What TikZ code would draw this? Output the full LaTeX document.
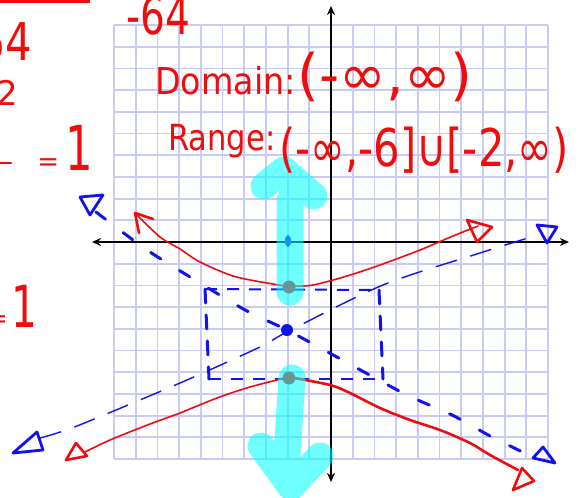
\documentclass[tikz,border=0pt]{standalone}
\usepackage{fontspec}
\setmainfont{DejaVu Sans}
\usetikzlibrary{arrows.meta}
\definecolor{gridc}{RGB}{202,202,246}
\definecolor{penred}{RGB}{240,12,12}
\definecolor{penblue}{RGB}{18,18,235}
\definecolor{hilite}{RGB}{0,255,255}
\begin{document}
\begin{tikzpicture}[x=1pt,y=-1pt,
  gridline/.style={gridc, line width=1.8pt},
  axis/.style={black, line width=2.4pt, {Stealth[length=9pt,width=8pt]}-{Stealth[length=9pt,width=8pt]}},
  redcurve/.style={penred, line width=1.6pt, line cap=round, line join=round},
  redthick/.style={penred, line width=2.6pt, line cap=round, line join=round},
  redhead/.style={penred, line width=2.6pt, line join=round, line cap=round},
  asymA/.style={penblue, line width=1.4pt, dash pattern=on 22pt off 14pt},
  asymB/.style={penblue, line width=3pt, line cap=round, dash pattern=on 12pt off 22pt},
  boxh/.style={penblue, line width=2pt, dash pattern=on 12pt off 10pt},
  boxv/.style={penblue, line width=3pt, line cap=round, dash pattern=on 14pt off 12pt},
  bluehead/.style={penblue, line width=2.8pt, line join=round, line cap=round},
  hl/.style={hilite, draw opacity=0.57, line width=27pt, line cap=round, line join=round},
  ink/.style={penred, inner sep=0pt}]
\clip (0,0) rectangle (582,498);
\fill[white] (0,0) rectangle (582,498);
% grid
\foreach \i in {0,...,20}{
  \draw[gridline] ({114+21.7*\i},25) -- ({114+21.7*\i},459);
  \draw[gridline] (114,{25+21.7*\i}) -- (548,{25+21.7*\i});
}
% axes
\coordinate (xl) at (92,242);
\coordinate (xr) at (569,242);
\coordinate (yt) at (331,6);
\coordinate (yb) at (331,482);
\draw[axis] (xl) -- (xr);
\draw[axis] (yt) -- (yb);
% key points
\coordinate (ctr) at (287,330);
\coordinate (vtop) at (289,287);
\coordinate (vbot) at (289,378);
\coordinate (bA) at (205,289);
\coordinate (bB) at (379,290);
\coordinate (bC) at (383,379);
\coordinate (bD) at (209,379);
% box
\draw[boxh] (bA) -- (bB);
\draw[boxh] (bD) -- (bC);
\draw[boxv] (bA) -- (bD);
\draw[boxv] (bB) -- (bC);
% asymptote A (thin, rising)
\draw[asymA] plot[smooth] coordinates {(40,438) (77,426) (180,383) (260,347) (287,332) (383,285) (480,253) (528,238)};
\draw[bluehead] (37,432) -- (13,453) -- (43,450) -- cycle;
\draw[bluehead] (537,225) -- (557,227) -- (547,243) -- cycle;
% asymptote B (thick, falling)
\draw[asymB] plot[smooth] coordinates {(96,212) (147,250) (200,283) (247,311) (287,330) (335,356) (405,394) (452,415) (492,437) (535,458)};
\draw[bluehead] (80,197) -- (103,195) -- (90,215) -- cycle;
\draw[bluehead] (533,458) -- (543,447) -- (555,463) -- cycle;
% hyperbola upper branch
\draw[redcurve] plot[smooth] coordinates {(135,213) (160,237) (180,249) (200,262) (233,276) (267,283) (289,286) (313,285) (347,276) (380,265) (420,250) (453,236) (478,226)};
\draw[redhead] (153,219) -- (135,213) -- (139,233);
\draw[redhead] (467,220) -- (492,227) -- (477,242) -- cycle;
% hyperbola lower branch
\draw[redcurve] plot[smooth] coordinates {(85,452) (110,440) (150,424) (180,413) (217,398) (250,387) (289,377)};
\draw[redthick] plot[smooth] coordinates {(289,377) (330,385) (350,393) (380,408) (410,420) (440,430) (470,443) (490,455) (518,470)};
\draw[redhead] (66,460) -- (76,443) -- (87,456) -- cycle;
\draw[redhead] (513,490) -- (522,468) -- (534,481) -- cycle;
% dots
\fill[penred] (vtop) circle[radius=6.5pt];
\fill[penred] (vbot) circle[radius=6.5pt];
\fill[penblue] (ctr) circle[radius=6pt];
\fill[penblue] (288,241) ellipse[x radius=3pt, y radius=6pt];
% highlighter arrows
\draw[hl] (290,292) -- (290,200) (264,186) -- (284,170) -- (314,196);
\draw[hl] (292,378) -- (286,470) (261,446) -- (291,487) -- (320,456);
% handwriting
\draw[penred, line width=3pt] (0,1) -- (90,1);
\draw[penred, line width=2.4pt, line cap=round] (0,163) -- (11,163);
\node[ink, anchor=base west] (dom) at (155,94) {\scalebox{0.9}[1]{\fontsize{37}{37}\selectfont Domain:}\hspace{2pt}{\fontsize{56}{56}\selectfont (-∞,∞)}};
\node[ink, anchor=base west] (rng) at (168,150) {\scalebox{0.85}[1]{\fontsize{36}{36}\selectfont Range:}\hspace{4pt}\raisebox{-16pt}{\scalebox{0.8}[1]{\fontsize{52}{52}\selectfont (-∞,-6]∪[-2,∞)}}};
\node[ink, anchor=base west] (m64) at (126,34) {\scalebox{0.75}[1]{\fontsize{52}{52}\selectfont -64}};
\node[ink, anchor=base east] (l64) at (32,60) {\scalebox{0.8}[1]{\fontsize{52}{52}\selectfont 64}};
\node[ink, anchor=base east] (l2) at (18,105) {\fontsize{34}{34}\selectfont 2};
\node[ink, anchor=base east] (eq1) at (93,170) {{\fontsize{26}{26}\selectfont =}\hspace{6pt}\scalebox{0.7}[1]{\fontsize{62}{62}\selectfont 1}};
\node[ink, anchor=base east] (eq2) at (38,327) {{\fontsize{26}{26}\selectfont =}\hspace{4pt}\scalebox{0.7}[1]{\fontsize{58}{58}\selectfont 1}};
\end{tikzpicture}
\end{document}
